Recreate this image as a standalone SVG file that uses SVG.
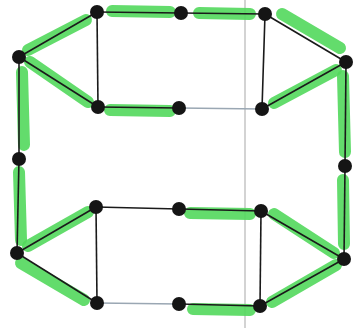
<svg xmlns="http://www.w3.org/2000/svg" width="361" height="328" viewBox="0 0 361 328">
<style>
.hl{stroke:#52d85c;stroke-width:12;stroke-linecap:round;fill:none;opacity:0.9}
.ln{stroke:#1a1a1a;stroke-width:1.6;fill:none}
.lt{stroke:#9aa7b3;stroke-width:1.4;fill:none}
.nd{fill:#151515}
</style>
<rect width="361" height="328" fill="#ffffff"/>
<line x1="245" y1="0" x2="245" y2="328" stroke="#c4c4c4" stroke-width="1.5"/>
<g id="connectors">
<g id="highlights">
<line class="hl" x1="112" y1="11" x2="170" y2="12"/>
<line class="hl" x1="199" y1="13" x2="250" y2="14"/>
<line class="hl" x1="28" y1="50" x2="86" y2="20"/>
<line class="hl" x1="30" y1="62" x2="88" y2="102"/>
<line class="hl" x1="22" y1="72" x2="24" y2="145"/>
<line class="hl" x1="110" y1="110" x2="170" y2="111"/>
<line class="hl" x1="282" y1="14" x2="340" y2="48"/>
<line class="hl" x1="274" y1="103" x2="336" y2="70"/>
<line class="hl" x1="343" y1="76" x2="345" y2="152"/>
<line class="hl" x1="19" y1="172" x2="21" y2="240"/>
<line class="hl" x1="28" y1="246" x2="88" y2="212"/>
<line class="hl" x1="21" y1="263" x2="84" y2="300"/>
<line class="hl" x1="190" y1="213" x2="250" y2="214"/>
<line class="hl" x1="274" y1="214" x2="334" y2="253"/>
<line class="hl" x1="343" y1="180" x2="344" y2="244"/>
<line class="hl" x1="193" y1="309" x2="250" y2="310"/>
<line class="hl" x1="272" y1="302" x2="336" y2="265"/>
</g>
<g id="lines">
<line class="ln" x1="97" y1="12" x2="181" y2="13"/>
<line class="ln" x1="181" y1="13" x2="265" y2="14"/>
<line class="ln" x1="97" y1="12" x2="19" y2="57"/>
<line class="ln" x1="97" y1="12" x2="98" y2="107"/>
<line class="ln" x1="19" y1="57" x2="98" y2="107"/>
<line class="ln" x1="19" y1="57" x2="19" y2="159"/>
<line class="ln" x1="98" y1="107" x2="179" y2="108"/>
<line class="lt" x1="179" y1="108" x2="262" y2="109"/>
<line class="ln" x1="265" y1="14" x2="262" y2="109"/>
<line class="ln" x1="265" y1="14" x2="346" y2="62"/>
<line class="ln" x1="262" y1="109" x2="346" y2="62"/>
<line class="ln" x1="346" y1="62" x2="345" y2="166"/>
<line class="ln" x1="19" y1="159" x2="17" y2="253"/>
<line class="ln" x1="17" y1="253" x2="96" y2="207"/>
<line class="ln" x1="17" y1="253" x2="97" y2="303"/>
<line class="ln" x1="96" y1="207" x2="179" y2="209"/>
<line class="ln" x1="96" y1="207" x2="97" y2="303"/>
<line class="ln" x1="179" y1="209" x2="261" y2="211"/>
<line class="ln" x1="261" y1="211" x2="260" y2="306"/>
<line class="ln" x1="261" y1="211" x2="344" y2="259"/>
<line class="ln" x1="345" y1="166" x2="344" y2="259"/>
<line class="lt" x1="97" y1="303" x2="179" y2="304"/>
<line class="ln" x1="179" y1="304" x2="260" y2="306"/>
<line class="ln" x1="260" y1="306" x2="344" y2="259"/>
</g>
</g>
<g id="nA"><circle class="nd" cx="97" cy="12" r="7"/></g>
<g id="nB"><circle class="nd" cx="181" cy="13" r="7"/></g>
<g id="nC"><circle class="nd" cx="265" cy="14" r="7"/></g>
<g id="nD"><circle class="nd" cx="19" cy="57" r="7"/></g>
<g id="nE"><circle class="nd" cx="346" cy="62" r="7"/></g>
<g id="nF"><circle class="nd" cx="98" cy="107" r="7"/></g>
<g id="nG"><circle class="nd" cx="179" cy="108" r="7"/></g>
<g id="nH"><circle class="nd" cx="262" cy="109" r="7"/></g>
<g id="nI"><circle class="nd" cx="19" cy="159" r="7"/></g>
<g id="nJ"><circle class="nd" cx="345" cy="166" r="7"/></g>
<g id="nK"><circle class="nd" cx="96" cy="207" r="7"/></g>
<g id="nL"><circle class="nd" cx="179" cy="209" r="7"/></g>
<g id="nM"><circle class="nd" cx="261" cy="211" r="7"/></g>
<g id="nN"><circle class="nd" cx="17" cy="253" r="7"/></g>
<g id="nO"><circle class="nd" cx="344" cy="259" r="7"/></g>
<g id="nP"><circle class="nd" cx="97" cy="303" r="7"/></g>
<g id="nQ"><circle class="nd" cx="179" cy="304" r="7"/></g>
<g id="nR"><circle class="nd" cx="260" cy="306" r="7"/></g>
</svg>
